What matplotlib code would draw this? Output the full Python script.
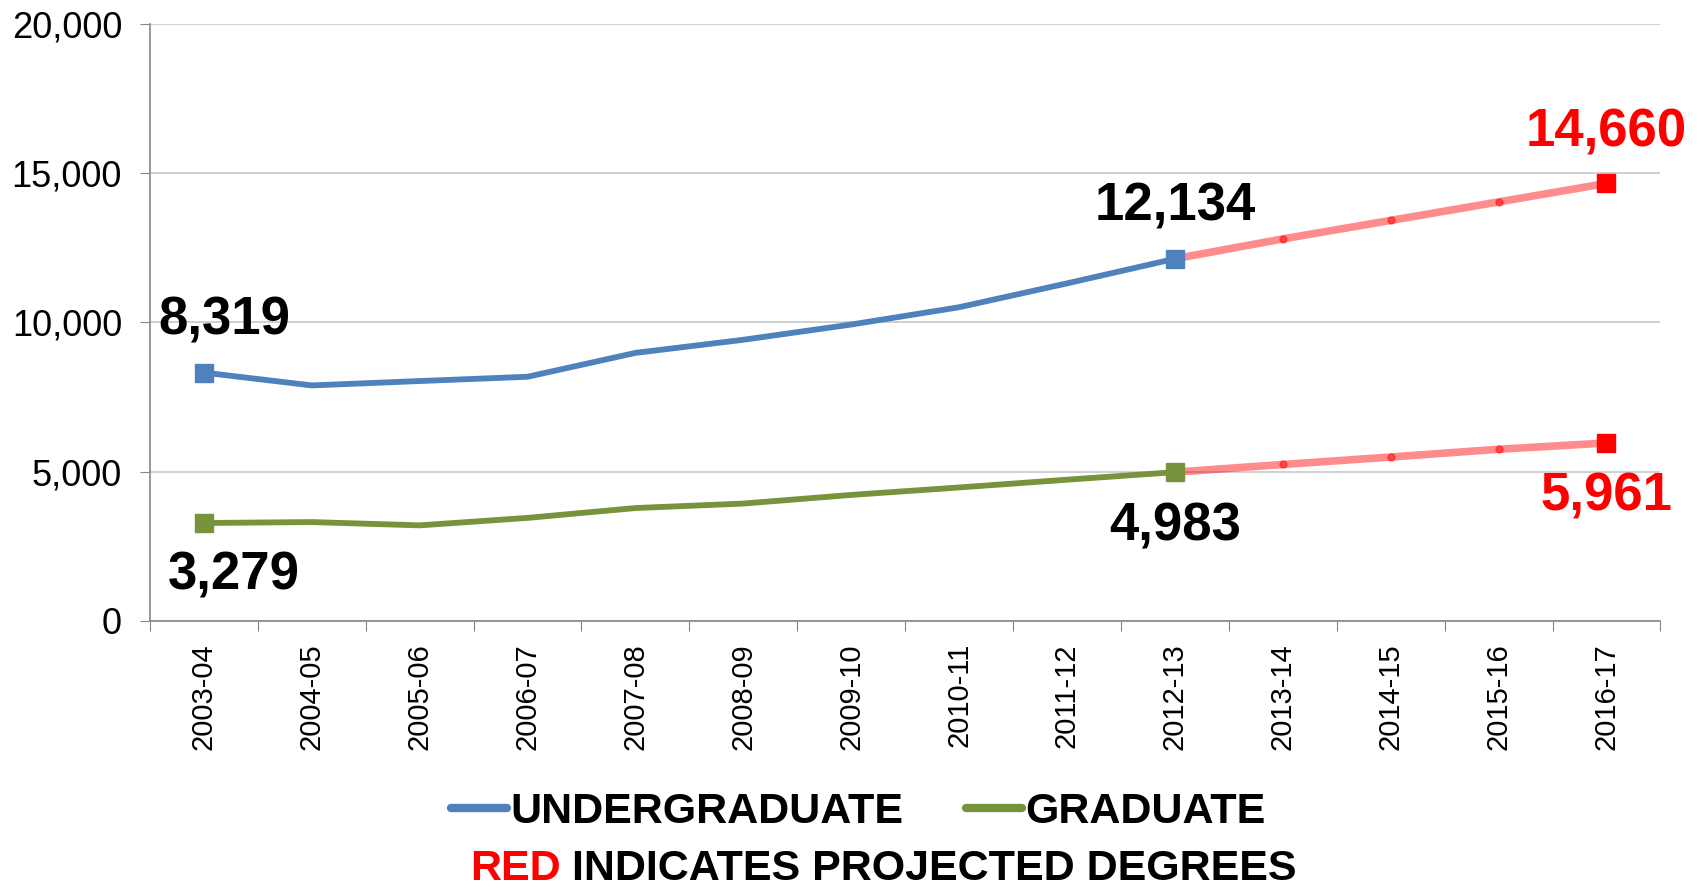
#!/usr/bin/env python3
"""Degrees conferred: undergraduate vs graduate, actual + projected."""
import matplotlib

matplotlib.use("Agg")
import matplotlib.pyplot as plt  # noqa: E402
from matplotlib.lines import Line2D  # noqa: E402
from matplotlib.ticker import FuncFormatter, MultipleLocator  # noqa: E402

years = [
    "2003-04", "2004-05", "2005-06", "2006-07", "2007-08", "2008-09", "2009-10",
    "2010-11", "2011-12", "2012-13", "2013-14", "2014-15", "2015-16", "2016-17",
]
undergrad = [8319, 7890, 8036, 8180, 8980, 9420, 9930, 10510, 11310, 12134,
             12800, 13420, 14040, 14660]
graduate = [3279, 3310, 3200, 3450, 3780, 3930, 4220, 4470, 4730, 4983,
            5240, 5490, 5750, 5961]
last_actual = 9  # 2012-13, everything after is projected

BLUE = "#4F81BD"
GREEN = "#77933C"
RED = "#FF0000"

plt.rcParams["font.family"] = ["Liberation Sans", "DejaVu Sans"]

fig = plt.figure(figsize=(17.03, 8.92), dpi=100)
ax = fig.add_axes([0.088, 0.304, 0.887, 0.669])

xs = list(range(len(years)))
act = slice(0, last_actual + 1)
proj = slice(last_actual, len(years))

for vals, col in ((undergrad, BLUE), (graduate, GREEN)):
    ax.plot(xs[act], vals[act], color=col, lw=4.2, solid_capstyle="butt", zorder=3)
    ax.plot(xs[proj], vals[proj], color=RED, alpha=0.45, lw=5.5,
            solid_capstyle="butt", zorder=2)
    ax.plot(xs[last_actual + 1:-1], vals[last_actual + 1:-1], "o", color=RED,
            alpha=0.5, ms=5, zorder=2)
    ax.plot([xs[0], xs[last_actual]], [vals[0], vals[last_actual]], "s",
            color=col, ms=13, zorder=4)
    ax.plot(xs[-1], vals[-1], "s", color=RED, ms=13, zorder=4)

# data labels: (series, index, pixel offset, colour)
labels = [
    (undergrad, 0, (21, 52), "black"),
    (graduate, 0, (30, -53), "black"),
    (undergrad, last_actual, (0, 52), "black"),
    (graduate, last_actual, (0, -54), "black"),
    (undergrad, len(years) - 1, (0, 51), RED),
    (graduate, len(years) - 1, (0, -54), RED),
]
for vals, i, off, col in labels:
    ax.annotate(f"{vals[i]:,}", (xs[i], vals[i]), xytext=off,
                textcoords="offset pixels", ha="center", va="center",
                fontsize=38, fontweight="bold", color=col, zorder=5)

ax.set_xlim(-0.5, len(years) - 0.5)
ax.set_ylim(0, 20000)
ax.yaxis.set_major_locator(MultipleLocator(5000))
ax.yaxis.set_major_formatter(FuncFormatter(lambda v, _: f"{v:,.0f}"))
ax.set_xticks([x + 0.5 for x in range(-1, len(years))])
ax.set_xticklabels([])
ax.set_xticks(xs, minor=True)
ax.set_xticklabels(years, minor=True, rotation=90, fontsize=21)
ax.tick_params(axis="x", which="minor", length=0, pad=16)
ax.tick_params(axis="x", which="major", length=7, color="#868686")
ax.tick_params(axis="y", length=7, color="#868686", labelsize=26, pad=13)

ax.grid(axis="y", color="#C8C8C8", lw=1.2)
ax.set_axisbelow(True)
for side in ("top", "right"):
    ax.spines[side].set_visible(False)
for side in ("left", "bottom"):
    ax.spines[side].set_color("#868686")
    ax.spines[side].set_linewidth(1.2)

handles = [
    Line2D([], [], color=BLUE, lw=6, solid_capstyle="round"),
    Line2D([], [], color=GREEN, lw=6, solid_capstyle="round"),
]
fig.legend(handles, ["UNDERGRADUATE", "GRADUATE"], loc="center",
           bbox_to_anchor=(0.504, 0.090), ncol=2, frameon=False,
           prop={"size": 31, "weight": "bold"}, handlelength=1.3,
           handletextpad=0.08, columnspacing=1.45)

fig.text(0.276, 0.026, "RED", color=RED, fontsize=31, fontweight="bold",
         ha="left", va="center")
fig.text(0.336, 0.026, "INDICATES PROJECTED DEGREES", color="black",
         fontsize=31, fontweight="bold", ha="left", va="center")

fig.savefig("out.png", dpi=100)
